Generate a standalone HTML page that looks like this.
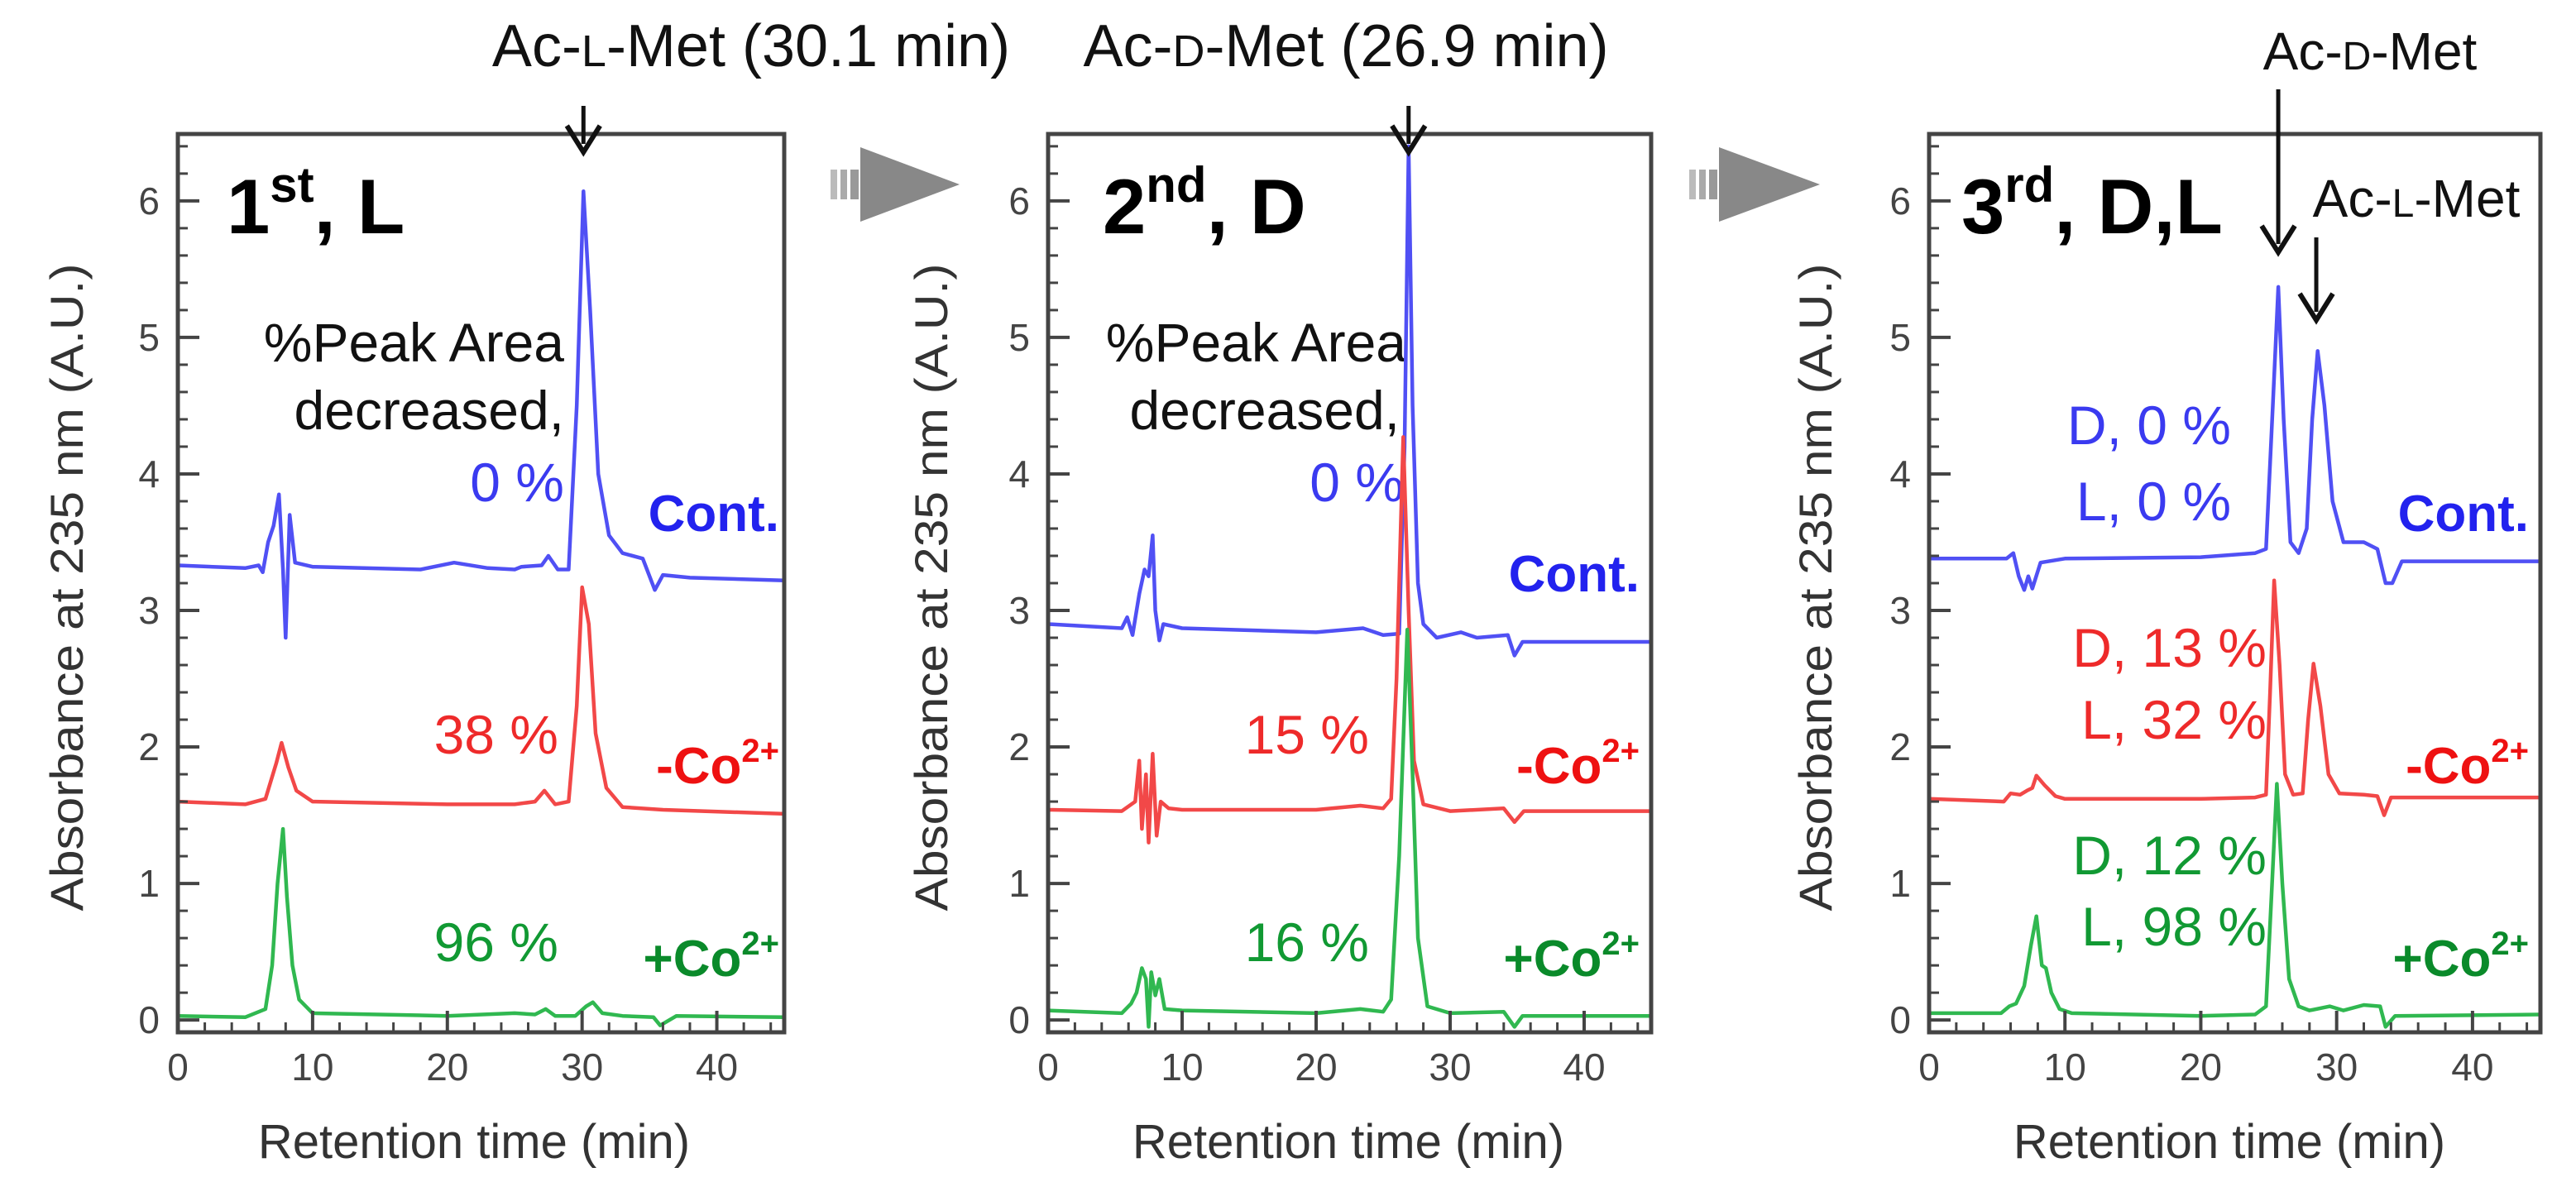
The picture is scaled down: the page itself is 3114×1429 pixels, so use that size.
<!DOCTYPE html>
<html><head><meta charset="utf-8"><style>
html,body{margin:0;padding:0;background:#fff;}
svg{display:block;font-family:"Liberation Sans",Arial,sans-serif;}
</style></head><body>
<svg id="fig" width="3114" height="1429" viewBox="0 0 3114 1429" xmlns="http://www.w3.org/2000/svg">
<g id="static">
  <text x="908" y="80" font-size="72" text-anchor="middle" fill="#111">Ac-<tspan font-size="54">L</tspan>-Met (30.1 min)</text>
  <text x="1627" y="80" font-size="72" text-anchor="middle" fill="#111">Ac-<tspan font-size="54">D</tspan>-Met (26.9 min)</text>
  <text x="2865" y="84" font-size="64" text-anchor="middle" fill="#111">Ac-<tspan font-size="48">D</tspan>-Met</text>
  <text x="2921" y="262" font-size="64" text-anchor="middle" fill="#111">Ac-<tspan font-size="48">L</tspan>-Met</text>
  <g>
    <rect x="1004" y="205" width="8" height="36" fill="#bbb"/><rect x="1016" y="205" width="8" height="36" fill="#aaa"/><rect x="1028" y="205" width="10" height="36" fill="#999"/>
    <polygon points="1040,178 1040,268 1160,223" fill="#888"/>
  </g>
  <g>
    <rect x="2042" y="205" width="8" height="36" fill="#bbb"/><rect x="2054" y="205" width="8" height="36" fill="#aaa"/><rect x="2066" y="205" width="10" height="36" fill="#999"/>
    <polygon points="2078,178 2078,268 2200,223" fill="#888"/>
  </g>
  <text x="274" y="282" font-size="94" font-weight="bold" fill="#000">1<tspan font-size="60" dy="-38">st</tspan><tspan dy="38">, L</tspan></text>
  <text x="1333" y="282" font-size="94" font-weight="bold" fill="#000">2<tspan font-size="60" dy="-38">nd</tspan><tspan dy="38">, D</tspan></text>
  <text x="2371" y="282" font-size="94" font-weight="bold" fill="#000">3<tspan font-size="60" dy="-38">rd</tspan><tspan dy="38">, D,L</tspan></text>
  <text x="682" y="437" font-size="66" text-anchor="end" fill="#111">%Peak Area</text>
  <text x="682" y="519" font-size="66" text-anchor="end" fill="#111">decreased,</text>
  <text x="682" y="606" font-size="66" text-anchor="end" fill="#3a3af0">0 %</text>
  <text x="942" y="642" font-size="62" font-weight="bold" text-anchor="end" fill="#2222ee">Cont.</text>
  <text x="675" y="911" font-size="66" text-anchor="end" fill="#ee2a2a">38 %</text>
  <text x="942" y="947" font-size="62" font-weight="bold" text-anchor="end" fill="#ee1111">-Co<tspan font-size="40" dy="-26">2+</tspan></text>
  <text x="675" y="1162" font-size="66" text-anchor="end" fill="#119933">96 %</text>
  <text x="942" y="1180" font-size="62" font-weight="bold" text-anchor="end" fill="#0a8a2a">+Co<tspan font-size="40" dy="-26">2+</tspan></text>
  <text x="1700" y="437" font-size="66" text-anchor="end" fill="#111">%Peak Area</text>
  <text x="1692" y="519" font-size="66" text-anchor="end" fill="#111">decreased,</text>
  <text x="1697" y="606" font-size="66" text-anchor="end" fill="#3a3af0">0 %</text>
  <text x="1982" y="715" font-size="62" font-weight="bold" text-anchor="end" fill="#2222ee">Cont.</text>
  <text x="1655" y="911" font-size="66" text-anchor="end" fill="#ee2a2a">15 %</text>
  <text x="1982" y="947" font-size="62" font-weight="bold" text-anchor="end" fill="#ee1111">-Co<tspan font-size="40" dy="-26">2+</tspan></text>
  <text x="1655" y="1162" font-size="66" text-anchor="end" fill="#119933">16 %</text>
  <text x="1982" y="1180" font-size="62" font-weight="bold" text-anchor="end" fill="#0a8a2a">+Co<tspan font-size="40" dy="-26">2+</tspan></text>
  <text x="2697" y="537" font-size="66" text-anchor="end" fill="#3a3af0">D, 0 %</text>
  <text x="2697" y="629" font-size="66" text-anchor="end" fill="#3a3af0">L, 0 %</text>
  <text x="3057" y="642" font-size="62" font-weight="bold" text-anchor="end" fill="#2222ee">Cont.</text>
  <text x="2740" y="806" font-size="66" text-anchor="end" fill="#ee2a2a">D, 13 %</text>
  <text x="2740" y="893" font-size="66" text-anchor="end" fill="#ee2a2a">L, 32 %</text>
  <text x="3057" y="947" font-size="62" font-weight="bold" text-anchor="end" fill="#ee1111">-Co<tspan font-size="40" dy="-26">2+</tspan></text>
  <text x="2740" y="1057" font-size="66" text-anchor="end" fill="#119933">D, 12 %</text>
  <text x="2740" y="1143" font-size="66" text-anchor="end" fill="#119933">L, 98 %</text>
  <text x="3057" y="1180" font-size="62" font-weight="bold" text-anchor="end" fill="#0a8a2a">+Co<tspan font-size="40" dy="-26">2+</tspan></text>
  <text transform="translate(100,710) rotate(-90)" font-size="56" text-anchor="middle" fill="#333" textLength="783" lengthAdjust="spacingAndGlyphs">Absorbance at 235 nm (A.U.)</text>
  <text transform="translate(1145,710) rotate(-90)" font-size="56" text-anchor="middle" fill="#333" textLength="783" lengthAdjust="spacingAndGlyphs">Absorbance at 235 nm (A.U.)</text>
  <text transform="translate(2214,710) rotate(-90)" font-size="56" text-anchor="middle" fill="#333" textLength="783" lengthAdjust="spacingAndGlyphs">Absorbance at 235 nm (A.U.)</text>
  <text x="573" y="1400" font-size="58" text-anchor="middle" fill="#333">Retention time (min)</text>
  <text x="1630" y="1400" font-size="58" text-anchor="middle" fill="#333">Retention time (min)</text>
  <text x="2695" y="1400" font-size="58" text-anchor="middle" fill="#333">Retention time (min)</text>
</g>
<g id="plots"></g>
<g id="arrows"></g>
</svg>
<script>
const xTicks = [0, 10, 20, 30, 40];
const yTicks = [0, 1, 2, 3, 4, 5, 6];
const xTickLabels = ["0", "10", "20", "30", "40"];
const yTickLabels = ["0", "1", "2", "3", "4", "5", "6"];

const p1BlueT = [0,5,6,6.3,6.7,7.1,7.5,7.8,8.0,8.3,8.7,10,18,20.5,23,25,25.5,27,27.5,28.2,29,29.6,30.1,30.6,31.2,32,33,34.5,35.4,36,38,45];
const p1BlueV = [3.33,3.31,3.33,3.28,3.5,3.62,3.85,3.3,2.8,3.7,3.35,3.32,3.3,3.35,3.31,3.3,3.32,3.33,3.4,3.3,3.3,4.5,6.07,5.2,4.0,3.55,3.42,3.38,3.15,3.26,3.24,3.22];
const p1RedT = [0,5,6.5,6.9,7.3,7.7,8.2,8.8,10,20,25,26.5,27.2,28,29,29.6,30.0,30.5,31,31.8,33,36,45];
const p1RedV = [1.6,1.58,1.62,1.75,1.88,2.03,1.85,1.68,1.6,1.58,1.58,1.6,1.68,1.58,1.6,2.3,3.17,2.9,2.1,1.7,1.56,1.54,1.51];
const p1GreenT = [0,5,6.5,7.0,7.4,7.8,8.1,8.5,9,10,20,25,26.5,27.3,28,29.5,30.3,30.8,31.5,33,35.3,35.8,37,45];
const p1GreenV = [0.03,0.02,0.08,0.4,1.0,1.4,0.9,0.4,0.15,0.05,0.03,0.05,0.04,0.08,0.03,0.03,0.1,0.13,0.05,0.03,0.02,-0.04,0.03,0.02];

const p2BlueT = [0,5.5,5.9,6.3,6.8,7.2,7.5,7.8,8.0,8.3,8.6,10,20,23.5,25,26.2,26.6,26.9,27.2,27.6,28,29,30.8,32,34.3,34.8,35.4,45];
const p2BlueV = [2.9,2.87,2.95,2.82,3.12,3.3,3.25,3.55,3.0,2.78,2.9,2.87,2.84,2.87,2.82,2.83,4.2,6.4,4.5,3.2,2.9,2.8,2.84,2.8,2.82,2.67,2.77,2.77];
const p2RedT = [0,5.5,6.5,6.8,7.0,7.3,7.5,7.8,8.1,8.4,9,10,20,23.3,25,25.6,26.0,26.5,26.9,27.3,28,30,34,34.8,35.5,45];
const p2RedV = [1.54,1.53,1.6,1.9,1.4,1.8,1.3,1.95,1.35,1.6,1.55,1.54,1.54,1.57,1.55,1.62,2.5,4.27,3.0,1.9,1.58,1.53,1.55,1.45,1.53,1.53];
const p2GreenT = [0,5.5,6.2,6.6,7.0,7.3,7.5,7.7,8.0,8.3,8.7,10,20,23.3,25,25.6,26.2,26.8,27.2,27.6,28.3,30,34,34.8,35.4,45];
const p2GreenV = [0.07,0.05,0.12,0.2,0.38,0.3,-0.05,0.35,0.18,0.3,0.08,0.07,0.05,0.08,0.06,0.15,1.2,2.86,1.8,0.6,0.1,0.05,0.06,-0.05,0.03,0.03];

const p3BlueT = [0,5.7,6.2,6.6,7.0,7.3,7.6,8.2,10,20,24,24.8,25.3,25.7,26.1,26.6,27.2,27.8,28.2,28.6,29.1,29.7,30.5,32,33,33.6,34.1,34.8,45];
const p3BlueV = [3.38,3.38,3.42,3.25,3.15,3.25,3.16,3.35,3.38,3.39,3.42,3.45,4.5,5.37,4.4,3.5,3.42,3.6,4.4,4.9,4.5,3.8,3.5,3.5,3.45,3.2,3.2,3.36,3.36];
const p3RedT = [0,5.5,6.0,6.7,7.2,7.6,7.9,8.5,9.3,10,20,24,24.8,25.1,25.4,25.8,26.2,26.8,27.5,27.9,28.3,28.8,29.4,30.2,32,33,33.5,34,45];
const p3RedV = [1.62,1.6,1.66,1.65,1.68,1.7,1.79,1.72,1.64,1.62,1.62,1.63,1.65,2.4,3.22,2.6,1.8,1.65,1.66,2.2,2.61,2.3,1.8,1.66,1.65,1.64,1.5,1.63,1.63];
const p3GreenT = [0,5.3,5.9,6.4,7.0,7.5,7.9,8.3,8.6,9.0,9.6,10.5,20,24,24.8,25.2,25.6,26.0,26.5,27.2,28,29.5,30.5,32,33.2,33.6,34.3,45];
const p3GreenV = [0.05,0.05,0.1,0.12,0.25,0.55,0.76,0.4,0.38,0.2,0.08,0.05,0.03,0.04,0.1,0.9,1.73,1.0,0.3,0.1,0.07,0.1,0.07,0.11,0.1,-0.05,0.03,0.04];

const arrowTimes = [30.1, 26.9, 25.7, 28.5];

const NS = "http://www.w3.org/2000/svg";
const panels = [
  {x0:215, x1:948, name:"panel-1"},
  {x0:1267, x1:1996, name:"panel-2"},
  {x0:2332, x1:3071, name:"panel-3"}
];
const Y_TOP = 162, Y_BOT = 1248, XMAX = 45, VMIN = -0.09, VMAX = 6.49;
function sx(p, t) { return p.x0 + (t / XMAX) * (p.x1 - p.x0); }
function sy(v) { return Y_BOT - (v - VMIN) / (VMAX - VMIN) * (Y_BOT - Y_TOP); }
function mk(tag, attrs) { const e = document.createElementNS(NS, tag); for (const k in attrs) e.setAttribute(k, attrs[k]); return e; }

const traces = [
  [[p1BlueT,p1BlueV,"#5050f4","cont"],[p1RedT,p1RedV,"#f24848","minus-co"],[p1GreenT,p1GreenV,"#30b850","plus-co"]],
  [[p2BlueT,p2BlueV,"#5050f4","cont"],[p2RedT,p2RedV,"#f24848","minus-co"],[p2GreenT,p2GreenV,"#30b850","plus-co"]],
  [[p3BlueT,p3BlueV,"#5050f4","cont"],[p3RedT,p3RedV,"#f24848","minus-co"],[p3GreenT,p3GreenV,"#30b850","plus-co"]]
];

const plots = document.getElementById("plots");
panels.forEach((p, i) => {
  const g = mk("g", {});
  
  
  plots.appendChild(g);
  traces[i].forEach(tr => {
    const [T, V, col, nm] = tr;
    let d = "";
    T.forEach((t, k) => { d += (k ? "L" : "M") + sx(p, t).toFixed(1) + "," + sy(V[k]).toFixed(1); });
    const path = mk("path", {d: d, fill: "none", stroke: col, "stroke-width": 4.5, "stroke-linejoin": "round"});
    
    
    g.appendChild(path);
  });
  const tk = mk("g", {stroke: "#444", "stroke-width": 3});
  
  
  g.appendChild(tk);
  for (let v = 0; v <= 6.41; v += 0.2) {
    const major = Math.abs(v - Math.round(v)) < 1e-6;
    tk.appendChild(mk("line", {x1: p.x0, x2: p.x0 + (major ? 26 : 12), y1: sy(v), y2: sy(v), "stroke-width": major ? 4 : 3}));
  }
  for (let t = 2; t < 45; t += 2) {
    const major = t % 10 === 0;
    tk.appendChild(mk("line", {x1: sx(p, t), x2: sx(p, t), y1: Y_BOT, y2: Y_BOT - (major ? 26 : 12), "stroke-width": major ? 4 : 3}));
  }
  const fr = mk("rect", {x: p.x0, y: Y_TOP, width: p.x1 - p.x0, height: Y_BOT - Y_TOP, fill: "none", stroke: "#444", "stroke-width": 5});
  
  
  g.appendChild(fr);
  xTicks.forEach((t, k) => {
    const tx = mk("text", {x: sx(p, t), y: 1306, "font-size": 46, "text-anchor": "middle", fill: "#444"});
    
    
    tx.textContent = xTickLabels[k];
    g.appendChild(tx);
  });
  yTicks.forEach((v, k) => {
    const tx = mk("text", {x: p.x0 - 22, y: sy(v) + 16, "font-size": 46, "text-anchor": "end", fill: "#444"});
    
    
    tx.textContent = yTickLabels[k];
    g.appendChild(tx);
  });
});

const arrowPanels = [0, 1, 2, 2];
const arrowTops = [128, 128, 108, 287];
const arrowBots = [184, 184, 305, 387];
const ag = document.getElementById("arrows");
arrowTimes.forEach((t, k) => {
  const x = sx(panels[arrowPanels[k]], t);
  const top = arrowTops[k], bot = arrowBots[k];
  const a = mk("g", {});
  
  
  a.appendChild(mk("line", {x1: x, x2: x, y1: top, y2: bot - 10, stroke: "#111", "stroke-width": 5}));
  a.appendChild(mk("polyline", {points: (x - 20) + "," + (bot - 32) + " " + x + "," + bot + " " + (x + 20) + "," + (bot - 32), fill: "none", stroke: "#111", "stroke-width": 6}));
  ag.appendChild(a);
});
</script>
</body></html>
